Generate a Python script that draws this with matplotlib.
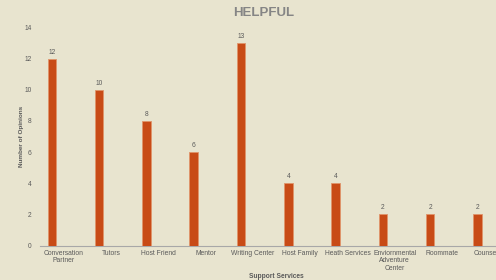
import matplotlib
matplotlib.use("Agg")
import matplotlib.pyplot as plt

plt.rcParams['font.family'] = ['Liberation Sans', 'DejaVu Sans']

services = ['Conversation\nPartner', 'Tutors', 'Host Friend', 'Mentor',
            'Writing Center', 'Host Family', 'Heath Services',
            'Enviornmental\nAdventure\nCenter', 'Roommate', 'Counselor']
opinions = [12, 10, 8, 6, 13, 4, 4, 2, 2, 2]
yticks = [0, 2, 4, 6, 8, 10, 12, 14]

bg = '#e8e4cf'
bar_col = '#c84b16'
txt = '#5a5a5a'

fig = plt.figure(figsize=(4.96, 2.8), dpi=100, facecolor=bg)
# axes run past the right edge, last label is cut like in the original
ax = fig.add_axes([40 / 496, 0.123, 473 / 496, 0.779], facecolor=bg)

x = list(range(len(services)))
xb = [i - 0.25 for i in x]
ax.bar(xb, opinions, width=0.18, color=bar_col, edgecolor='#e0946a', linewidth=0.6, zorder=3)
for xi, v in zip(xb, opinions):
    ax.text(xi, v + 0.42, str(v), ha='center', va='center', fontsize=4.8, color=txt)

ax.set_xlim(-0.5, 9.5)
ax.set_ylim(0, 14)
ax.set_yticks(yticks)
ax.set_xticks(x)
ax.set_xticklabels(services, fontsize=4.85, color=txt, linespacing=1.15)
ax.tick_params(axis='y', labelsize=4.8, labelcolor=txt, length=0, pad=6)
ax.tick_params(axis='x', length=0, pad=3)

for s in ['top', 'right', 'left']:
    ax.spines[s].set_visible(False)
ax.spines['bottom'].set_color('#a8a8a8')
ax.spines['bottom'].set_linewidth(0.8)

fig.text(22 / 496, 0.123 + 0.779 / 2, 'Number of Opinions', rotation=90,
         ha='center', va='center', fontsize=4.6, color=txt, fontweight='bold')
fig.text(276 / 496, 1 - 276 / 280, 'Support Services', ha='center', va='center',
         fontsize=4.8, color=txt, fontweight='bold')
fig.text(264 / 496, 1 - 13.5 / 280, 'HELPFUL', ha='center', va='center',
         fontsize=9.5, color='#858585', fontweight='bold')

fig.savefig('out.png', dpi=100, facecolor=bg)
